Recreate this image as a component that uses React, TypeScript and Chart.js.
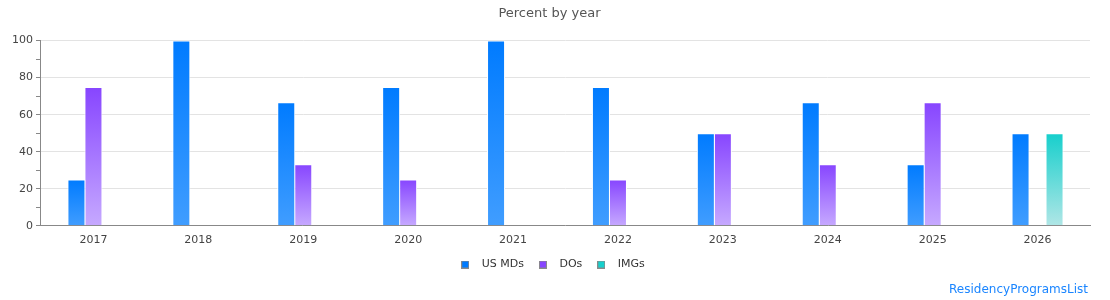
import React, { useEffect, useRef } from "react";
import { Chart, registerables } from "chart.js";

Chart.register(...registerables);

const years = ["2017", "2018", "2019", "2020", "2021", "2022", "2023", "2024", "2025", "2026"];
const usMDs = [25, 100, 66.7, 75, 100, 75, 50, 66.7, 33.3, 50];
const dos = [75, 0, 33.3, 25, 0, 25, 50, 33.3, 66.7, 0];
const imgs = [0, 0, 0, 0, 0, 0, 0, 0, 0, 50];

const FONT = "'DejaVu Sans', sans-serif";

// top / bottom colours for each series' vertical gradient
const palette = {
  md: { top: "#007bff", bottom: "#409dff", solid: "#007bff" },
  do: { top: "#8745ff", bottom: "#c6a9ff", solid: "#8745ff" },
  img: { top: "#16cfcc", bottom: "#b0e6e6", solid: "#16cfcc" },
};

function barGradient(colors: { top: string; bottom: string; solid: string }) {
  return (ctx: any) => {
    const chart = ctx.chart;
    const yScale = chart.scales?.y;
    if (ctx.type !== "data" || !yScale || !chart.chartArea) return colors.solid;
    const v = ctx.parsed?.y ?? 0;
    const top = yScale.getPixelForValue(v);
    const bottom = yScale.getPixelForValue(0);
    if (!isFinite(top) || !isFinite(bottom) || top === bottom) return colors.solid;
    const g = chart.ctx.createLinearGradient(0, top, 0, bottom);
    g.addColorStop(0, colors.top);
    g.addColorStop(1, colors.bottom);
    return g;
  };
}

// small square legend swatch with a grey outline
function swatch(fill: string) {
  const c = document.createElement("canvas");
  c.width = 8;
  c.height = 8;
  const g = c.getContext("2d")!;
  g.fillStyle = "#8a8a8a";
  g.fillRect(0, 0, 8, 8);
  g.fillStyle = fill;
  g.fillRect(1, 1, 6, 6);
  return c;
}

const watermark = {
  id: "watermark",
  afterDraw(chart: any) {
    const c = chart.ctx;
    c.save();
    c.font = `12px ${FONT}`;
    c.fillStyle = "#1a85ff";
    c.textAlign = "right";
    c.textBaseline = "middle";
    c.fillText("ResidencyProgramsList", 1088, 290);
    c.restore();
  },
};

export default function App() {
  const ref = useRef<HTMLCanvasElement>(null);

  useEffect(() => {
    if (!ref.current) return;
    const series = [
      { label: "US MDs", data: usMDs, colors: palette.md },
      { label: "DOs", data: dos, colors: palette.do },
      { label: "IMGs", data: imgs, colors: palette.img },
    ];
    const swatches = series.map((s) => swatch(s.colors.solid));
    const chart = new Chart(ref.current, {
      type: "bar",
      data: {
        labels: years,
        datasets: series.map((s) => ({
          label: s.label,
          data: s.data,
          backgroundColor: barGradient(s.colors),
          borderColor: "#ffffff",
          borderWidth: 1,
          borderSkipped: "bottom",
          // neighbouring bars overlap by their 1px white edge
          categoryPercentage: 0.486,
          barPercentage: 1.06,
        })),
      },
      options: {
        animation: false,
        responsive: false,
        maintainAspectRatio: false,
        layout: { padding: { left: 9, right: 20, top: 0, bottom: 20 } },
        plugins: {
          title: {
            display: true,
            text: "Percent by year",
            color: "#555555",
            font: { family: FONT, size: 13, weight: "normal" },
            padding: { top: 6, bottom: 19 },
          },
          legend: {
            position: "bottom",
            labels: {
              color: "#333333",
              font: { family: FONT, size: 11 },
              usePointStyle: true,
              pointStyleWidth: 22,
              boxHeight: 8,
              padding: 8,
              generateLabels: () =>
                series.map((s, i) => ({
                  text: s.label,
                  fillStyle: s.colors.solid,
                  strokeStyle: "#888888",
                  lineWidth: 1,
                  pointStyle: swatches[i],
                  hidden: false,
                  datasetIndex: i,
                  fontColor: "#333333",
                })),
            },
          },
          tooltip: { enabled: false },
        },
        scales: {
          x: {
            grid: { display: false, drawTicks: false },
            border: { color: "#888888", width: 1 },
            ticks: { color: "#444444", font: { family: FONT, size: 11 }, padding: 8 },
            afterFit: (scale: any) => {
              scale.height -= 4;
            },
          },
          y: {
            min: 0,
            max: 100,
            ticks: {
              stepSize: 10,
              color: "#444444",
              font: { family: FONT, size: 11 },
              padding: 3,
              callback: (v: any) => (Number(v) % 20 === 0 ? String(v) : ""),
            },
            grid: {
              color: (ctx: any) => (ctx.tick && ctx.tick.value % 20 === 0 ? "#e3e3e3" : "rgba(0,0,0,0)"),
              tickColor: "#888888",
              tickLength: 5,
              drawTicks: true,
            },
            border: { color: "#888888", width: 1 },
          },
        },
      },
      plugins: [watermark],
    });
    return () => chart.destroy();
  }, []);

  return (
    <div style={{ position: "absolute", left: 0, top: 0, width: 1110, height: 300, background: "#fff" }}>
      <canvas ref={ref} width={1110} height={300} style={{ display: "block" }} />
    </div>
  );
}
